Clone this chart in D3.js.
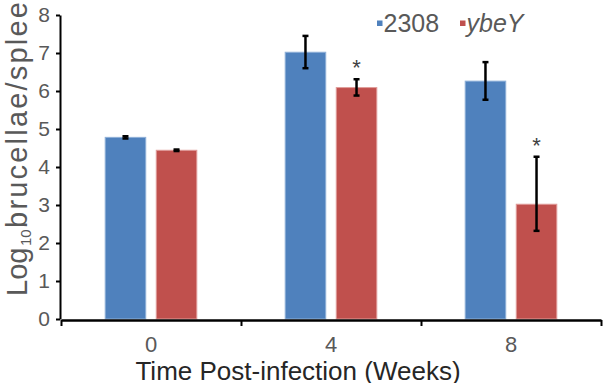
<!DOCTYPE html>
<html>
<head>
<meta charset="utf-8">
<script src="https://cdn.jsdelivr.net/npm/d3@7/dist/d3.min.js"></script>
<style>
  html, body { margin: 0; padding: 0; background: #fff; }
  svg { display: block; }
  text { font-family: "Liberation Sans", Arial, sans-serif; }
</style>
</head>
<body>
<svg id="chart" width="603" height="383"></svg>
<script>
// ---- data ----
const categories = ["0", "4", "8"];
const seriesNames = ["2308", "ybeY"];
const values2308 = [4.78, 7.02, 6.26];
const valuesYbeY = [4.44, 6.09, 3.02];
const errLow2308 = [4.75, 6.60, 5.77];
const errHigh2308 = [4.81, 7.45, 6.76];
const errLowYbeY = [4.42, 5.88, 2.32];
const errHighYbeY = [4.46, 6.31, 4.27];
const sigYbeY = [false, true, true];
const yTicks = [0, 1, 2, 3, 4, 5, 6, 7, 8];

const colors = { "2308": "#4F81BD", "ybeY": "#C0504D" };
const strokes = { "2308": "#8fb0d8", "ybeY": "#e09c9a" };

const rows = [];
categories.forEach((c, i) => {
  rows.push({ cat: c, s: "2308", v: values2308[i], lo: errLow2308[i], hi: errHigh2308[i], sig: false });
  rows.push({ cat: c, s: "ybeY", v: valuesYbeY[i], lo: errLowYbeY[i], hi: errHighYbeY[i], sig: sigYbeY[i] });
});

const svg = d3.select("#chart");
const mLeft = 61, mRight = 601, mTop = 15, mBottom = 319;

const x0 = d3.scaleBand().domain(categories).range([mLeft, mRight]).paddingInner(0).paddingOuter(0);
const bw = x0.bandwidth();
const x1 = d3.scaleBand().domain(seriesNames).range([bw / 2 - 45.8, bw / 2 + 45.8]).paddingInner(0.206).paddingOuter(0);
const y = d3.scaleLinear().domain([0, 8]).range([mBottom, mTop]);
const xBound = d3.scaleLinear().domain([0, categories.length]).range([mLeft, mRight]);

// bars
svg.append("g").selectAll("rect").data(rows).join("rect")
  .attr("x", d => x0(d.cat) + x1(d.s))
  .attr("y", d => y(d.v))
  .attr("width", x1.bandwidth())
  .attr("height", d => y(0) - y(d.v))
  .attr("fill", d => colors[d.s])
  .attr("stroke", d => strokes[d.s])
  .attr("stroke-width", 1);

// error bars
const eg = svg.append("g").attr("stroke", "#000").attr("stroke-width", 2.5);
rows.forEach(d => {
  const cx = x0(d.cat) + x1(d.s) + x1.bandwidth() / 2;
  eg.append("line").attr("x1", cx).attr("x2", cx).attr("y1", y(d.lo)).attr("y2", y(d.hi));
  eg.append("line").attr("x1", cx - 3).attr("x2", cx + 3).attr("y1", y(d.lo)).attr("y2", y(d.lo));
  eg.append("line").attr("x1", cx - 3).attr("x2", cx + 3).attr("y1", y(d.hi)).attr("y2", y(d.hi));
});

// asterisks
svg.append("g").selectAll("text").data(rows.filter(d => d.sig)).join("text")
  .attr("x", d => x0(d.cat) + x1(d.s) + x1.bandwidth() / 2)
  .attr("y", d => y(d.hi) - 4)
  .attr("text-anchor", "middle")
  .attr("font-size", 22)
  .attr("fill", "#404040")
  .text("*");

// y axis
const ya = svg.append("g").attr("transform", `translate(60,0)`)
  .call(d3.axisLeft(y).tickValues(yTicks).tickSize(4).tickSizeOuter(0).tickPadding(6));
ya.select(".domain").attr("stroke", "#000").attr("stroke-width", 2);
ya.selectAll(".tick line").attr("stroke", "#000").attr("stroke-width", 2);
ya.selectAll(".tick text").attr("font-size", 21).attr("fill", "#595959")
  .attr("font-family", "Liberation Sans, Arial, sans-serif");

// x axis: boundary ticks
const xb = svg.append("g").attr("transform", `translate(0,${mBottom + 1})`)
  .call(d3.axisBottom(xBound).tickValues(d3.range(categories.length + 1)).tickSize(6).tickSizeOuter(0).tickFormat(""));
xb.select(".domain").attr("stroke", "#000").attr("stroke-width", 2.5);
xb.selectAll(".tick line").attr("stroke", "#000").attr("stroke-width", 2);

// x axis: labels
const xl = svg.append("g").attr("transform", `translate(0,${mBottom})`)
  .call(d3.axisBottom(x0).tickSize(0).tickPadding(17));
xl.select(".domain").remove();
xl.selectAll(".tick text").attr("font-size", 22).attr("fill", "#595959")
  .attr("font-family", "Liberation Sans, Arial, sans-serif");

// x title
svg.append("text")
  .attr("x", 298).attr("y", 379.5)
  .attr("text-anchor", "middle")
  .attr("font-size", 26)
  .attr("fill", "#262626")
  .text("Time Post-infection (Weeks)");

// y title
const yt = svg.append("text")
  .attr("transform", "translate(26.5,296) rotate(-90)")
  .attr("font-size", 29)
  .attr("fill", "#595959");
yt.append("tspan").text("Log");
yt.append("tspan").attr("font-size", 15).attr("dx", 1.5).attr("dy", 4).text("10");
yt.append("tspan").attr("dx", 1.5).attr("dy", -4).attr("letter-spacing", 2.2).text("brucellae/spleen");

// legend
const legX = [377, 460];
const lg = svg.append("g");
seriesNames.forEach((s, i) => {
  lg.append("rect").attr("x", legX[i]).attr("y", 20.5).attr("width", 5.5).attr("height", 5.5).attr("fill", colors[s]);
  lg.append("text").attr("x", legX[i] + 6.5).attr("y", 32)
    .attr("font-size", 25).attr("fill", "#595959")
    .attr("font-style", s === "ybeY" ? "italic" : "normal")
    .text(s);
});
</script>
</body>
</html>
